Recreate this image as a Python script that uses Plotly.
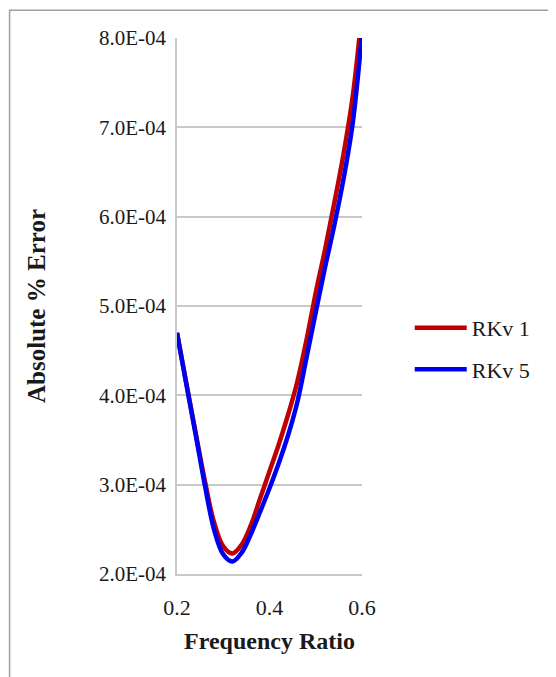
import plotly.graph_objects as go

# ---- data ----
freq_ratio = [0.20, 0.22, 0.24, 0.26, 0.28, 0.30, 0.32, 0.34, 0.36, 0.38, 0.40,
              0.42, 0.44, 0.46, 0.48, 0.50, 0.52, 0.54, 0.56, 0.58, 0.60]

rkv1_error = [4.70e-4, 4.14e-4, 3.59e-4, 3.05e-4, 2.58e-4, 2.31e-4, 2.23e-4, 2.33e-4,
              2.55e-4, 2.85e-4, 3.15e-4, 3.45e-4, 3.78e-4, 4.15e-4, 4.62e-4, 5.15e-4,
              5.63e-4, 6.15e-4, 6.70e-4, 7.35e-4, 8.30e-4]

rkv5_error = [4.70e-4, 4.13e-4, 3.57e-4, 3.00e-4, 2.50e-4, 2.22e-4, 2.14e-4, 2.24e-4,
              2.45e-4, 2.70e-4, 2.96e-4, 3.24e-4, 3.55e-4, 3.92e-4, 4.42e-4, 4.93e-4,
              5.43e-4, 5.90e-4, 6.42e-4, 7.05e-4, 8.05e-4]

series_names = ["RKv 1", "RKv 5"]

y_tick_vals = [2e-4, 3e-4, 4e-4, 5e-4, 6e-4, 7e-4, 8e-4]
y_tick_labels = ["2.0E-04", "3.0E-04", "4.0E-04", "5.0E-04", "6.0E-04", "7.0E-04", "8.0E-04"]
x_tick_vals = [0.2, 0.4, 0.6]
x_tick_labels = ["0.2", "0.4", "0.6"]

# ---- figure ----
SERIF = "Liberation Serif, Times New Roman, serif"
TXT = "#1a1a1a"
GRID = "#c8c8c8"

fig = go.Figure()
fig.add_trace(go.Scatter(
    x=freq_ratio, y=rkv1_error, name=series_names[0], mode="lines",
    line=dict(color="#C00000", width=4.5, shape="spline", smoothing=1.0),
    legendgroup="a",
))
fig.add_trace(go.Scatter(
    x=freq_ratio, y=rkv5_error, name=series_names[1], mode="lines",
    line=dict(color="#0000F0", width=4.5, shape="spline", smoothing=1.0),
    legendgroup="b",
))

fig.update_layout(
    width=548, height=669,
    margin=dict(l=169, r=194, t=30, b=103, pad=0),
    paper_bgcolor="white", plot_bgcolor="white",
    font=dict(family=SERIF, color=TXT, size=20),
    showlegend=True,
    legend=dict(
        x=1.258, y=0.42, xanchor="left", yanchor="middle",
        font=dict(family=SERIF, size=22, color=TXT),
        bgcolor="rgba(0,0,0,0)", borderwidth=0,
        tracegroupgap=10, itemwidth=52,
    ),
    shapes=[dict(
        type="rect", xref="paper", yref="paper",
        x0=-0.905, x1=2.4, y0=-0.3, y1=1.052,
        line=dict(color="#a0a0a0", width=1.5), fillcolor="rgba(0,0,0,0)",
        layer="below",
    )],
)

fig.update_xaxes(
    range=[0.2, 0.6], tickvals=x_tick_vals, ticktext=x_tick_labels,
    showgrid=False, zeroline=False,
    showline=True, linecolor=GRID, linewidth=1.5,
    ticks="outside", ticklen=0, ticklabelstandoff=13,
    tickfont=dict(family=SERIF, size=22, color=TXT),
    title=dict(text="<b>Frequency Ratio</b>", standoff=13,
               font=dict(family=SERIF, size=24, color=TXT)),
)
fig.update_yaxes(
    range=[2e-4, 8e-4], tickvals=y_tick_vals, ticktext=y_tick_labels,
    showgrid=True, gridcolor=GRID, gridwidth=1.5, zeroline=False,
    showline=True, linecolor=GRID, linewidth=1.5,
    ticks="outside", ticklen=0, ticklabelstandoff=5,
    tickfont=dict(family=SERIF, size=21, color=TXT),
    title=dict(text="<b>Absolute % Error</b>", standoff=46,
               font=dict(family=SERIF, size=25, color=TXT)),
)

fig.write_html("out.html")
